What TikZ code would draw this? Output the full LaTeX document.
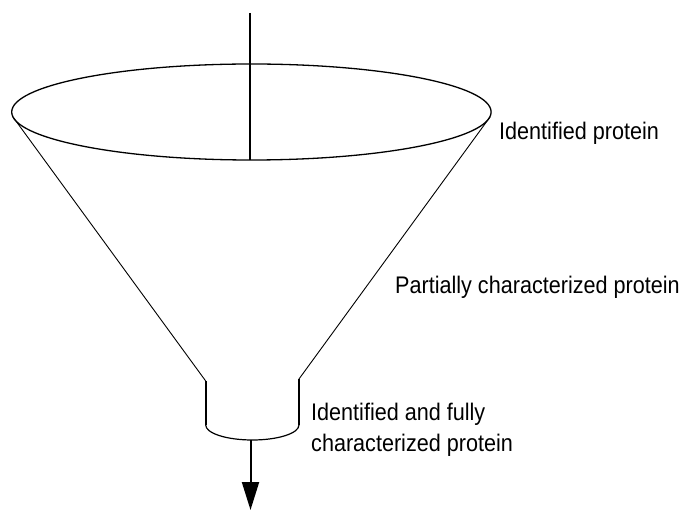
\documentclass[tikz,border=0pt]{standalone}
\usepackage{fontspec}
\setmainfont{Liberation Sans}[FakeStretch=0.9]
\usetikzlibrary{arrows.meta}

\begin{document}
\begin{tikzpicture}[x=1pt,y=-1pt,
		lbl/.style={anchor=base west, inner sep=0pt, align=left, font=\fontsize{24}{31}\selectfont},
		thin wall/.style={line width=0.9pt},
		neck/.style={line width=2pt}]
		\useasboundingbox (0,0) rectangle (685,510);
		\draw[line width=1.3pt] (251.4,112) ellipse [x radius=239.7pt, y radius=48pt];
		\draw[neck] (249.5,13) -- (249.5,160);
		\draw[thin wall] (13,117) -- (205.7,381);
		\draw[thin wall] (490,117) -- (299,379);
		\draw[neck] (205.7,381) -- (205.7,425);
		\draw[neck] (299,379) -- (299,425);
		\draw[line width=1.2pt] (205.7,425) arc [start angle=180, end angle=360, x radius=46.65pt, y radius=15pt];
		\coordinate (out) at (250.5,440);
		\coordinate (tip) at (250.5,510);
		\draw[neck, -{Triangle[length=28pt,width=17pt]}] (out) -- (tip);
		\node[lbl] (ident) at (499,140) {Identified protein};
		\node[lbl] (partial) at (395,293.5) {Partially characterized protein};
		\node[lbl] (full) at (311,451) {Identified and fully\\characterized protein};
		
\end{tikzpicture}
\end{document}
